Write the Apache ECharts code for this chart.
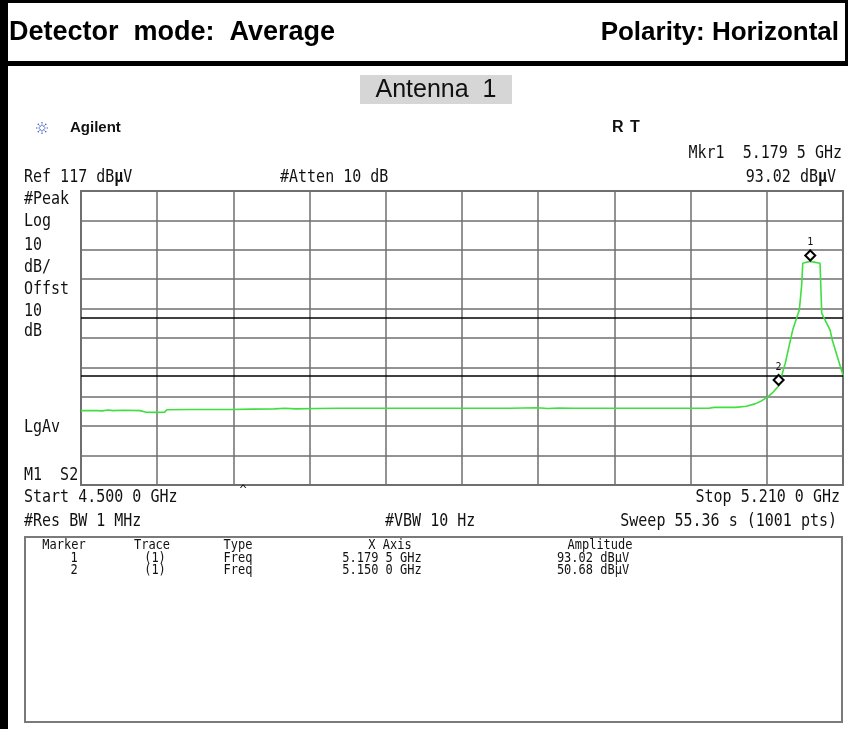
<!DOCTYPE html>
<html><head><meta charset="utf-8">
<script src="https://cdn.jsdelivr.net/npm/echarts@6/dist/echarts.min.js"></script>
<style>html,body{margin:0;padding:0;background:#fff}#c{width:848px;height:729px}</style>
</head><body><div id="c"></div>
<script>
// ---- data ----
const traceFreqGHz = [4.500,4.515,4.520,4.525,4.530,4.540,4.555,4.560,4.570,4.578,4.580,4.600,4.640,4.660,4.680,4.690,4.700,4.720,4.740,4.800,4.850,4.900,4.925,4.935,4.945,4.958,5.000,5.050,5.085,5.090,5.110,5.120,5.128,5.134,5.140,5.145,5.150,5.1544,5.1562,5.1631,5.1693,5.1715,5.1725,5.176,5.1795,5.183,5.1886,5.1902,5.198,5.200,5.2066,5.210];
const traceLevel   = [42.3,42.3,42.2,42.5,42.3,42.4,42.3,41.8,41.7,41.8,42.6,42.7,42.7,42.8,42.9,43.1,42.9,43.0,43.1,43.1,43.1,43.1,43.3,43.0,43.2,43.1,43.1,43.1,43.1,43.4,43.4,43.8,44.6,45.6,47.0,48.6,50.7,56.1,58.4,69.7,76.5,85.0,92.4,92.8,93.0,92.8,92.4,75.4,69.7,66.3,58.4,54.4];
const markerNames   = ['1','2'];
const markerFreqGHz = [5.1795, 5.1500];
const markerLevel   = [93.02, 50.68];
const displayLines  = [74, 54];
const refLevel = 117, dbPerDiv = 10, divisions = 10;
const startGHz = 4.5, stopGHz = 5.21;
const leftLabels = ['#Peak','Log','10','dB/','Offst','10','dB'];
const tableHeader = ['Marker','Trace','Type','X Axis','Amplitude'];
const tableRows = [['1','(1)','Freq','5.179 5 GHz','93.02 dBμV'],['2','(1)','Freq','5.150 0 GHz','50.68 dBμV']];
const headerLeft = 'Detector  mode:  Average';
const headerRight = 'Polarity: Horizontal';
const subTitle = 'Antenna  1';

// ---- layout ----
const MONO = '"DejaVu Sans Mono", "Liberation Mono", monospace';
const SANS = '"Liberation Sans", Arial, sans-serif';
const gridL = 81, gridT = 191, gridW = 762, gridH = 294;

function mono(text, x, y, align, size, sy) {
  return { type: 'text', x: x, y: y, scaleY: sy || 1.12, z: 10,
    style: { text: text, font: (size || 15) + 'px ' + MONO, fill: '#111', align: align || 'left', verticalAlign: 'middle' } };
}
function monoRich(parts, x, y, align) {
  return { type: 'text', x: x, y: y, scaleY: 1.12, z: 10,
    style: { text: parts, fill: '#111', align: align || 'left', verticalAlign: 'middle',
      rich: { a: { font: '15px ' + MONO, fill: '#111' }, b: { font: 'bold 15px ' + MONO, fill: '#111' } } } };
}

const graphics = [];
// frame
graphics.push({ type: 'rect', shape: { x: 0, y: 0, width: 8, height: 729 }, style: { fill: '#000' } });
graphics.push({ type: 'rect', shape: { x: 0, y: 0, width: 848, height: 3 }, style: { fill: '#000' } });
graphics.push({ type: 'rect', shape: { x: 0, y: 61, width: 848, height: 5 }, style: { fill: '#000' } });
graphics.push({ type: 'rect', shape: { x: 845, y: 0, width: 3, height: 66 }, style: { fill: '#000' } });
// header
graphics.push({ type: 'text', x: 9, y: 33, style: { text: headerLeft, font: 'bold 27px ' + SANS, fill: '#000', align: 'left', verticalAlign: 'middle' } });
graphics.push({ type: 'text', x: 839, y: 33, style: { text: headerRight, font: 'bold 26px ' + SANS, fill: '#000', align: 'right', verticalAlign: 'middle' } });
// subtitle
graphics.push({ type: 'rect', shape: { x: 360, y: 75, width: 152, height: 29 }, style: { fill: '#d6d6d6' } });
graphics.push({ type: 'text', x: 436, y: 90, style: { text: subTitle, font: '25px ' + SANS, fill: '#111', align: 'center', verticalAlign: 'middle' } });
// Agilent logo
const starC = [42, 128];
for (let i = 0; i < 8; i++) {
  const a = i * Math.PI / 4;
  graphics.push({ type: 'line', shape: { x1: starC[0] + 2 * Math.cos(a), y1: starC[1] + 2 * Math.sin(a), x2: starC[0] + 7 * Math.cos(a), y2: starC[1] + 7 * Math.sin(a) },
    style: { stroke: '#4a5fc8', lineWidth: 1.2, lineDash: [1.5, 1] } });
}
graphics.push({ type: 'text', x: 70, y: 128, style: { text: 'Agilent', font: 'bold 15px ' + SANS, fill: '#111', align: 'left', verticalAlign: 'middle' } });
graphics.push({ type: 'text', x: 612, y: 128, style: { text: 'R', font: 'bold 16px ' + SANS, fill: '#111', align: 'left', verticalAlign: 'middle' } });
graphics.push({ type: 'text', x: 630, y: 128, style: { text: 'T', font: 'bold 16px ' + SANS, fill: '#111', align: 'left', verticalAlign: 'middle' } });
// instrument annotations
graphics.push(mono('Mkr1  5.179 5 GHz', 842, 154, 'right'));
graphics.push(monoRich('{a|Ref ' + refLevel + ' dB}{b|µ}{a|V}', 24, 178, 'left'));
graphics.push(mono('#Atten 10 dB', 280, 178, 'left'));
graphics.push(monoRich('{a|93.02 dB}{b|µ}{a|V}', 836, 178, 'right'));
const leftY = [199.5, 222, 246, 267.5, 289.7, 311.5, 331.7];
leftLabels.forEach((t, i) => graphics.push(mono(t, 24, leftY[i], 'left')));
graphics.push(mono('LgAv', 24, 428, 'left'));
graphics.push(mono('M1  S2', 24, 475.5, 'left'));
graphics.push(mono('Start 4.500 0 GHz', 24, 497.5, 'left'));
graphics.push(mono('Stop 5.210 0 GHz', 840, 497.5, 'right'));
graphics.push(mono('^', 243, 491, 'center', 12, 1));
graphics.push(mono('#Res BW 1 MHz', 24, 522, 'left'));
graphics.push(mono('#VBW 10 Hz', 385, 522, 'left'));
graphics.push(mono('Sweep 55.36 s (1001 pts)', 837, 522, 'right'));
// marker table
graphics.push({ type: 'rect', shape: { x: 25, y: 537, width: 817, height: 185 }, style: { fill: 'none', stroke: '#7a7a7a', lineWidth: 2 } });
const colX = [64, 152, 238, 390, 600];
const rowX = [74, 155, 238, 382, 593];
tableHeader.forEach((t, i) => graphics.push(mono(t, colX[i], 545, 'center', 12, 1.15)));
tableRows.forEach((row, r) => row.forEach((t, i) => {
  graphics.push(mono(t, rowX[i], 558 + r * 12.5, 'center', 12, 1.15));
}));

const chart = echarts.init(document.getElementById('c'), null, { renderer: 'canvas' });
chart.setOption({
  animation: false,
  backgroundColor: '#fff',
  grid: { left: gridL, top: gridT, width: gridW, height: gridH, show: true, borderColor: '#6f6f6f', borderWidth: 2, backgroundColor: '#fff' },
  xAxis: [
    { type: 'value', min: startGHz, max: stopGHz, show: false },
    { type: 'value', min: 0, max: divisions, interval: 1, position: 'bottom',
      axisLine: { show: false }, axisTick: { show: false }, axisLabel: { show: false },
      splitLine: { show: true, lineStyle: { color: '#6f6f6f', width: 1.5 } } }
  ],
  yAxis: [
    { type: 'value', min: refLevel - dbPerDiv * divisions, max: refLevel, show: false },
    { type: 'value', min: 0, max: divisions, interval: 1,
      axisLine: { show: false }, axisTick: { show: false }, axisLabel: { show: false },
      splitLine: { show: true, lineStyle: { color: '#6f6f6f', width: 1.5 } } }
  ],
  graphic: graphics,
  series: [
    { type: 'line', xAxisIndex: 0, yAxisIndex: 0, showSymbol: false, symbol: 'none', z: 5,
      data: traceFreqGHz.map((f, i) => [f, traceLevel[i]]),
      lineStyle: { color: '#3fdf3f', width: 1.6 },
      markLine: { silent: true, symbol: 'none', label: { show: false }, z: 3,
        lineStyle: { color: '#000', width: 1.5, type: 'solid' },
        data: displayLines.map(v => ({ yAxis: v })) } },
    { type: 'scatter', xAxisIndex: 0, yAxisIndex: 0, z: 8,
      data: markerFreqGHz.map((f, i) => ({ value: [f, markerLevel[i]], name: markerNames[i] })),
      symbol: 'diamond', symbolSize: 10, symbolOffset: [0, -6],
      itemStyle: { color: '#fff', borderColor: '#000', borderWidth: 2, opacity: 1 },
      label: { show: true, position: 'top', distance: 2, formatter: p => p.name, fontFamily: MONO, fontSize: 10, color: '#111' } }
  ]
});
</script>
</body></html>
